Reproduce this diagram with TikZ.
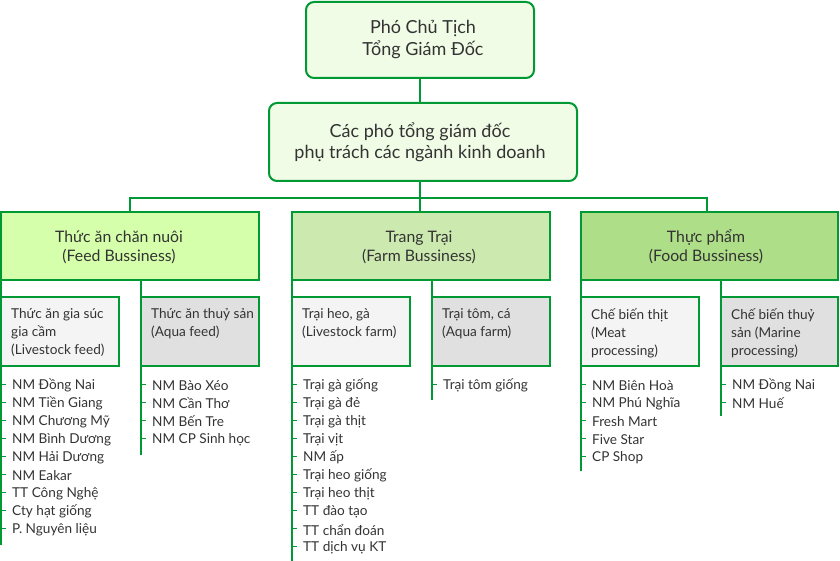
\documentclass[tikz,border=0pt]{standalone}
\usepackage{fontspec}
\setmainfont{Lato}
\definecolor{lc}{HTML}{009933}
\definecolor{tx}{HTML}{333333}
\definecolor{topfill}{HTML}{F1FCE6}
\definecolor{feedfill}{HTML}{D5FFAA}
\definecolor{farmfill}{HTML}{CCEAB0}
\definecolor{foodfill}{HTML}{AEDE88}
\definecolor{subA}{HTML}{F4F4F4}
\definecolor{subB}{HTML}{E0E0E0}
\tikzset{
  topbox/.style={draw=lc, line width=2pt, fill=topfill, rounded corners=8pt},
  catbox/.style={draw=lc, line width=2pt},
  subbox/.style={draw=lc, line width=2pt},
  conn/.style={draw=lc, line width=2pt},
  tick/.style={draw=lc, line width=1pt},
  ttext/.style={text=tx, font=\fontsize{18}{21.5}\selectfont, align=center, inner sep=0pt},
  ctext/.style={text=tx, font=\fontsize{15.8}{19}\selectfont, align=center, inner sep=0pt},
  stext/.style={text=tx, font=\fontsize{13.6}{18}\selectfont, align=left, anchor=north west, inner sep=0pt},
  item/.style={text=tx, font=\fontsize{13.6}{18}\selectfont, anchor=west, inner sep=0pt},
}
\begin{document}
\begin{tikzpicture}[x=1pt,y=-1pt]
\useasboundingbox (0,0) rectangle (840,561);
% top boxes
\path[topbox] (306,2) rectangle (534,78);
\node[ttext] (t1) at (423,39.5) {Phó Chủ Tịch\\Tổng Giám Đốc};
\coordinate (t1b) at (420,78);
\path[topbox] (269,103) rectangle (577,181);
\node[ttext] (t2) at (420,142.5) {Các phó tổng giám đốc\\phụ trách các ngành kinh doanh};
\coordinate (t2t) at (420,103);
\coordinate (t2b) at (420,181);
\draw[conn] (t1b) -- (t2t);
% category boxes
\draw[catbox, fill=feedfill] (1,212) rectangle (259,280);
\draw[catbox, fill=farmfill] (292,212) rectangle (550,280);
\draw[catbox, fill=foodfill] (581,212) rectangle (838,280);
\node[ctext] (c1) at (119,247) {Thức ăn chăn nuôi\\(Feed Bussiness)};
\node[ctext] (c2) at (419,247) {Trang Trại\\(Farm Bussiness)};
\node[ctext] (c3) at (706,247) {Thực phẩm\\(Food Bussiness)};
\coordinate (c1t) at (130,212);
\coordinate (c2t) at (420,212);
\coordinate (c3t) at (707,212);
\coordinate (bar) at (420,198);
\draw[conn] (t2b) -- (bar);
\draw[conn] (c1t) -- (130,198) -- (707,198) -- (c3t);
\draw[conn] (bar) -- (c2t);
% vertical trunks
\draw[conn] (1,280) -- (1,545);
\draw[conn] (141,280) -- (141,455);
\draw[conn] (292,280) -- (292,561);
\draw[conn] (432,280) -- (432,400);
\draw[conn] (581,280) -- (581,471);
\draw[conn] (721,280) -- (721,416);
% sub boxes
\draw[subbox, fill=subA] (1,297) rectangle (119,366);
\draw[subbox, fill=subB] (141,297) rectangle (259,366);
\draw[subbox, fill=subA] (292,297) rectangle (410,366);
\draw[subbox, fill=subB] (432,297) rectangle (550,366);
\draw[subbox, fill=subA] (581,297) rectangle (699,366);
\draw[subbox, fill=subB] (721,297) rectangle (838,366);
\node[stext] (s1) at (11,308) {Thức ăn gia súc\\gia cầm\\(Livestock feed)};
\node[stext] (s2) at (151,308) {Thức ăn thuỷ sản\\(Aqua feed)};
\node[stext] (s3) at (302,308) {Trại heo, gà\\(Livestock farm)};
\node[stext] (s4) at (442,308) {Trại tôm, cá\\(Aqua farm)};
\node[stext] (s5) at (591,308) {Chế biến thịt\\(Meat\\processing)};
\node[stext] (s6) at (731,308) {Chế biến thuỷ\\sản (Marine\\processing)};
% lists
\newcommand{\mylist}[3]{%
  \foreach \t [count=\i from 0] in {#3} {
    \node[item] (#2-\i) at (#1+11,385.5+18*\i) {\t};
    \draw[tick] (#1,384+18*\i) -- (#1+5,384+18*\i);
  }}
\mylist{1}{a}{NM Đồng Nai,NM Tiền Giang,NM Chương Mỹ,NM Bình Dương,NM Hải Dương,NM Eakar,TT Công Nghệ,Cty hạt giống,P. Nguyên liệu}
\mylist{141}{b}{NM Bào Xéo,NM Cần Thơ,NM Bến Tre,NM CP Sinh học}
\mylist{292}{c}{Trại gà giống,Trại gà đẻ,Trại gà thịt,Trại vịt,NM ấp,Trại heo giống,Trại heo thịt,TT đào tạo,TT chẩn đoán,TT dịch vụ KT}
\mylist{432}{d}{Trại tôm giống}
\mylist{581}{e}{NM Biên Hoà,NM Phú Nghĩa,Fresh Mart,Five Star,CP Shop}
\mylist{721}{f}{NM Đồng Nai,NM Huế}
\end{tikzpicture}
\end{document}
